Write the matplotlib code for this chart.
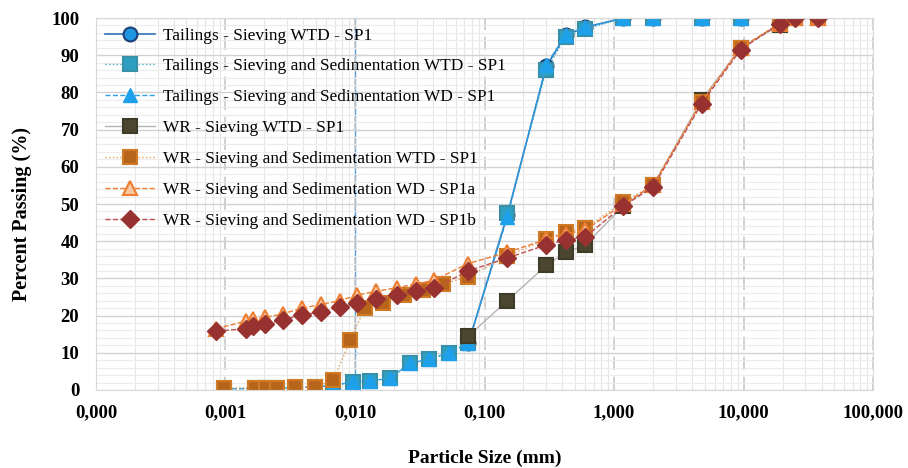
import matplotlib.pyplot as plt
import matplotlib.ticker as mticker
import numpy as np

plt.rcParams['font.family'] = ['Liberation Serif', 'DejaVu Serif']

# Tailings - sieving only (WTD)
t_sieve_x = [0.075, 0.15, 0.3, 0.425, 0.6, 1.18, 2.0, 4.75, 9.5, 19.0]
t_sieve_y = [12.5, 47.0, 87.0, 95.5, 97.5, 100, 100, 100, 100, 100]

# Tailings - sieving and sedimentation (WTD / WD)
t_ss_x = [0.00098, 0.00169, 0.00205, 0.0025, 0.00344, 0.0049, 0.0068, 0.0097, 0.0131,
          0.0186, 0.0266, 0.037, 0.053, 0.075, 0.15, 0.3, 0.425, 0.6, 1.18, 2.0, 4.75, 9.5, 19.0]
t_ss_wtd_y = [0.3, 0.4, 0.4, 0.5, 0.6, 0.8, 1.2, 2.2, 2.5, 3.1, 7.2, 8.2, 10.0, 12.5,
              47.5, 86.0, 95.0, 97.0, 100, 100, 100, 100, 100]
t_ss_wd_y = [0.3, 0.4, 0.4, 0.5, 0.6, 0.8, 1.2, 2.2, 2.5, 3.1, 7.2, 8.2, 10.0, 12.5,
             46.5, 87.5, 95.5, 97.5, 100, 100, 100, 100, 100]

# Waste rock - sieving only (WTD)
wr_sieve_x = [0.075, 0.15, 0.3, 0.425, 0.6, 1.18, 2.0, 4.75, 9.5, 19.0, 25.0, 37.5]
wr_sieve_y = [14.5, 24.0, 33.5, 37.0, 39.0, 49.5, 55.0, 78.0, 92.0, 98.0, 100, 100]

# Waste rock - sieving and sedimentation WTD
wr_ss_x = [0.00098, 0.00169, 0.00205, 0.0025, 0.00344, 0.0049, 0.0068, 0.0092, 0.0119,
           0.0164, 0.024, 0.0335, 0.048, 0.075, 0.15, 0.3, 0.425, 0.6, 1.18, 2.0, 4.75,
           9.5, 19.0, 25.0, 37.5]
wr_ss_y = [0.5, 0.6, 0.6, 0.6, 0.7, 0.8, 2.6, 13.4, 22.0, 23.5, 25.5, 27.0, 28.5, 30.5,
           36.0, 40.5, 42.5, 43.5, 50.5, 55.0, 77.5, 92.0, 98.5, 100, 100]

# Waste rock - sieving and sedimentation WD (SP1a / SP1b)
wr_wd_x = [0.00085, 0.00144, 0.00163, 0.00202, 0.00278, 0.0039, 0.00546, 0.00766, 0.01035,
           0.0145, 0.0211, 0.0295, 0.0407, 0.075, 0.15, 0.3, 0.425, 0.6, 1.18, 2.0, 4.75,
           9.5, 19.0, 25.0, 37.5]
wr_sp1a_y = [16.5, 18.5, 19.0, 19.5, 20.5, 22.0, 23.0, 24.0, 25.5, 26.5, 27.5, 28.5, 29.5,
             34.0, 37.0, 40.5, 42.0, 43.0, 50.0, 55.0, 77.5, 92.0, 98.5, 100, 100]
wr_sp1b_y = [15.8, 16.5, 17.2, 17.8, 18.8, 20.2, 21.0, 22.2, 23.3, 24.5, 25.5, 26.5, 27.3,
             32.0, 35.5, 39.0, 40.3, 41.2, 49.5, 54.5, 77.0, 91.5, 98.5, 100, 100]

x_ticks = [0.0001, 0.001, 0.01, 0.1, 1, 10, 100]

fig = plt.figure(figsize=(9.08, 4.68), dpi=100)
ax = fig.add_axes([0.1057, 0.1667, 0.8558, 0.7948])
ax.set_xscale('log')

# grid
ax.set_yticks(np.arange(0, 101, 10))
ax.set_yticks(np.arange(0, 101, 2), minor=True)
ax.set_xticks(x_ticks)
ax.xaxis.set_minor_locator(mticker.LogLocator(base=10, subs=np.arange(2, 10), numticks=20))
ax.xaxis.set_minor_formatter(mticker.NullFormatter())
ax.set_xlim(1e-4, 100)
ax.set_ylim(0, 100)
ax.grid(which='major', axis='x', color='#c8c8c8', linestyle=(0, (8, 4)), linewidth=1.2)
ax.grid(which='minor', axis='x', color='#e6e6e6', linewidth=0.8)
ax.grid(which='major', axis='y', color='#d2d2d2', linewidth=1.0)
ax.grid(which='minor', axis='y', color='#ececec', linewidth=0.8)
ax.set_axisbelow(True)
for s in ax.spines.values():
    s.set_color('#d9d9d9')
ax.tick_params(which='both', length=0)
ax.tick_params(axis='y', pad=12, labelsize=13.5)
ax.tick_params(axis='x', pad=10, labelsize=13.5)
ax.xaxis.set_major_formatter(mticker.FuncFormatter(lambda v, p: f"{v:.3f}".replace('.', ',')))
for lab in ax.get_xticklabels() + ax.get_yticklabels():
    lab.set_fontweight('bold')

# vertical axis line crossing at 0.01
sec = ax.secondary_yaxis(1 / 3)
sec.spines['left'].set_color('#5b9bd5')
sec.spines['left'].set_linewidth(1.0)
sec.set_yticks(np.arange(0, 101, 10))
sec.tick_params(direction='in', length=4, color='#5b9bd5', labelleft=False)

ms = 10
ax.plot(t_sieve_x, t_sieve_y, '-', color='#2e75b6', lw=1.2, marker='o', ms=ms,
        mfc='#1f97e0', mec='#1f3f78', mew=1.5, label='Tailings - Sieving WTD - SP1')
ax.plot(t_ss_x, t_ss_wtd_y, ':', color='#4bacc6', lw=1.0, marker='s', ms=ms,
        mfc='#2e9fc0', mec='#3a8fa8', mew=1.5, label='Tailings - Sieving and Sedimentation WTD - SP1')
ax.plot(t_ss_x, t_ss_wd_y, '--', color='#2ea0e6', lw=1.0, marker='^', ms=ms,
        mfc='#1ea0ea', mec='#1ea0ea', label='Tailings - Sieving and Sedimentation WD - SP1')
ax.plot(wr_sieve_x, wr_sieve_y, '-', color='#b5b5b5', lw=1.0, marker='s', ms=ms,
        mfc='#4a4630', mec='#3e3b28', mew=1.5, label='WR - Sieving WTD - SP1')
ax.plot(wr_ss_x, wr_ss_y, ':', color='#e09a5a', lw=1.0, marker='s', ms=ms,
        mfc='#b8651c', mec='#d17a26', mew=1.5, label='WR - Sieving and Sedimentation WTD - SP1')
ax.plot(wr_wd_x, wr_sp1a_y, '--', color='#ed7d31', lw=1.0, marker='^', ms=ms,
        mfc='#f7c8a0', mec='#ed7d31', mew=1.5, label='WR - Sieving and Sedimentation WD - SP1a')
ax.plot(wr_wd_x, wr_sp1b_y, '--', color='#c0504d', lw=1.0, marker='D', ms=9,
        mfc='#983230', mec='#983230', label='WR - Sieving and Sedimentation WD - SP1b')

ax.legend(loc='upper left', frameon=False, fontsize=12.4, handlelength=2.9,
          handletextpad=0.45, labelspacing=0.86, borderaxespad=0.15,
          bbox_to_anchor=(0.0, 1.0))

ax.set_ylabel('Percent Passing (%)', fontsize=14.5, fontweight='bold', va='center')
ax.yaxis.set_label_coords(-0.0952, 0.473)
ax.set_xlabel('Particle Size (mm)', fontsize=14, fontweight='bold', va='center')
ax.xaxis.set_label_coords(0.5, -0.183)

plt.savefig('out.png', dpi=100)
